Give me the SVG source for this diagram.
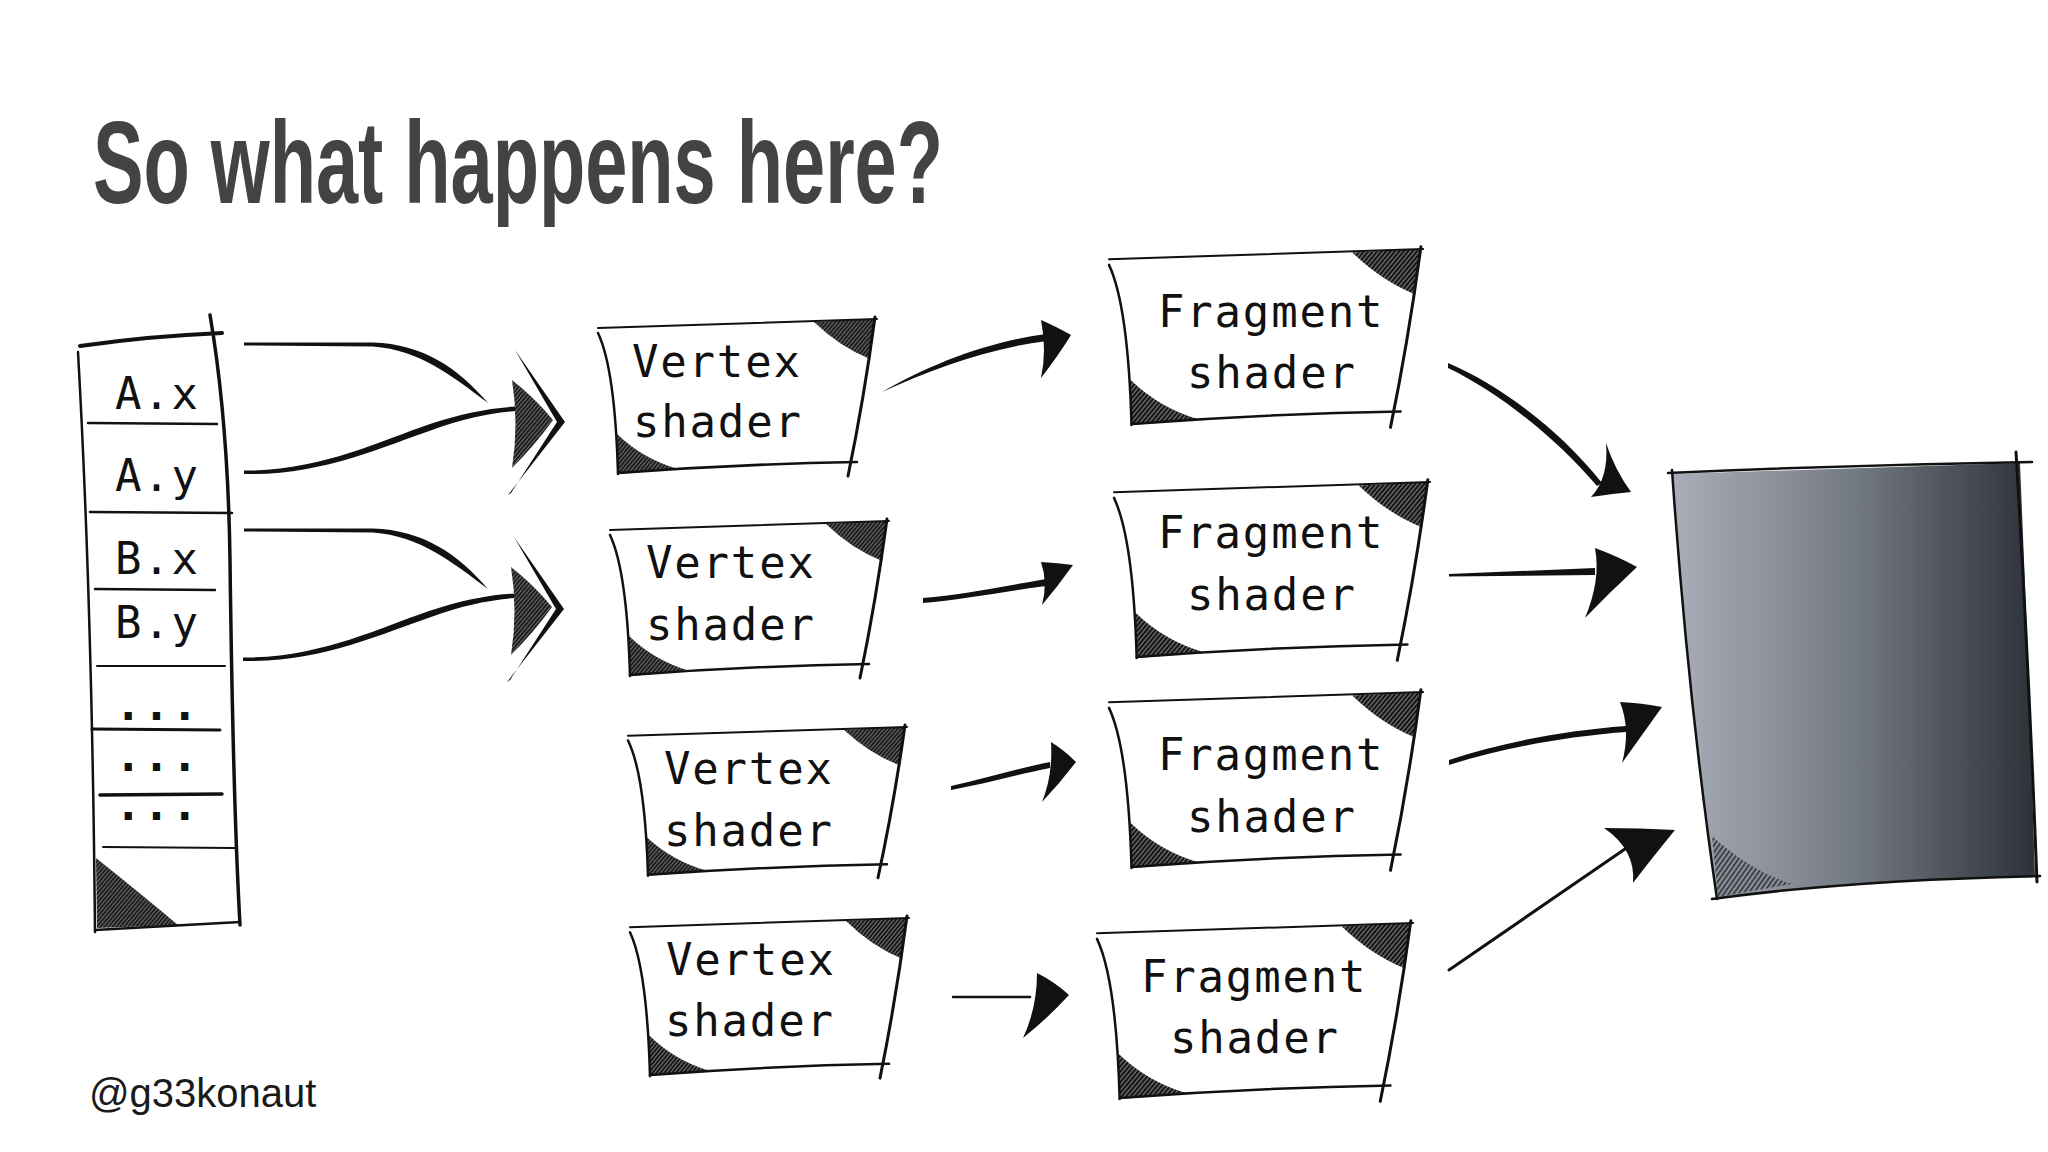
<svg xmlns="http://www.w3.org/2000/svg" xmlns:xlink="http://www.w3.org/1999/xlink" width="2048" height="1152" viewBox="0 0 2048 1152">
<style>
.ink{fill:none;stroke:#111;stroke-linecap:round;stroke-linejoin:round}
.brush{fill:#111;stroke:none}
.hatch{fill:url(#hatch);stroke:none}
.mono{font-family:"DejaVu Sans Mono","Liberation Mono",monospace;font-size:44px;fill:#111;letter-spacing:1.8px}
.dots{font-weight:700}
.title{font-family:"Liberation Sans",Arial,sans-serif;font-size:116px;font-weight:700;fill:#434343}
.handle{font-family:"Liberation Sans",Arial,sans-serif;font-size:40px;fill:#1a1a1a}
</style>
<defs>
<pattern id="hatch" patternUnits="userSpaceOnUse" width="3" height="3" patternTransform="rotate(40)">
<rect width="3" height="3" fill="#6a6a6a"/><rect width="1.7" height="3" fill="#111"/>
</pattern>
<pattern id="hatchLight" patternUnits="userSpaceOnUse" width="4" height="4" patternTransform="rotate(35)">
<rect width="4" height="4" fill="#8a8f98"/><rect width="1.5" height="4" fill="#2a2d33"/>
</pattern>
<linearGradient id="outGrad" x1="0" y1="0" x2="1" y2="0">
<stop offset="0" stop-color="#a9aeb8"/>
<stop offset="0.5" stop-color="#747a83"/>
<stop offset="1" stop-color="#2d3239"/>
</linearGradient>
<g id="card">
<path d="M0,12 Q140,4 277,0 Q265,75 252,145 Q140,146 20,154 Q17,50 0,16 Z" fill="#fff"/>
<path class="hatch" d="M216,3 Q242,28 272,40 L277,0 Z"/>
<path class="hatch" d="M19,115 Q45,140 80,150 L20,155 Z"/>
<path class="ink" vector-effect="non-scaling-stroke" stroke-width="2" d="M0,9 Q140,4 279,0"/>
<path class="ink" vector-effect="non-scaling-stroke" stroke-width="3" d="M277,-2 Q266,80 250,157"/>
<path class="ink" vector-effect="non-scaling-stroke" stroke-width="2.5" d="M20,154 Q140,145 259,143"/>
<path class="ink" vector-effect="non-scaling-stroke" stroke-width="2.5" d="M0,14 Q17,50 20,155"/>
</g>
</defs>
<rect width="2048" height="1152" fill="#fff"/>

<text class="title" x="93" y="203" textLength="850" lengthAdjust="spacingAndGlyphs">So what happens here?</text>
<text class="handle" x="89" y="1107">@g33konaut</text>

<g id="memory">
<path class="hatch" d="M96,858 Q140,893 178,925 L97,928 Z"/>
<path class="ink" stroke-width="4" d="M80,346 Q150,336 222,333"/>
<path class="ink" stroke-width="2.5" d="M78,352 Q92,600 95,932"/>
<path class="ink" stroke-width="3.5" d="M210,315 Q228,420 230,560 Q233,800 240,925"/>
<path class="ink" stroke-width="2.5" d="M95,930 L240,922"/>
<path class="ink" stroke-width="2.5" d="M88,423 L217,424"/>
<path class="ink" stroke-width="2.5" d="M90,512 L232,513"/>
<path class="ink" stroke-width="2.5" d="M95,589 L215,590"/>
<path class="ink" stroke-width="2" d="M97,666 L225,666"/>
<path class="ink" stroke-width="3" d="M92,729 L220,730"/>
<path class="ink" stroke-width="3.5" d="M100,795 L222,794"/>
<path class="ink" stroke-width="2" d="M103,847 L235,848"/>
<text class="mono" x="115" y="409">A.x</text>
<text class="mono" x="115" y="491">A.y</text>
<text class="mono" x="115" y="574">B.x</text>
<text class="mono" x="115" y="638">B.y</text>
<text class="mono dots" x="115" y="720">...</text>
<text class="mono dots" x="115" y="771">...</text>
<text class="mono dots" x="115" y="820">...</text>
</g>

<g id="vertex1">
<use xlink:href="#card" href="#card" transform="translate(598,319)"/>
<text class="mono" x="632" y="377">Vertex</text>
<text class="mono" x="633" y="437">shader</text>
</g>
<g id="vertex2">
<use xlink:href="#card" href="#card" transform="translate(610,521)"/>
<text class="mono" x="646" y="578">Vertex</text>
<text class="mono" x="646" y="640">shader</text>
</g>
<g id="vertex3">
<use xlink:href="#card" href="#card" transform="translate(628,727) scale(1,0.96)"/>
<text class="mono" x="664" y="784">Vertex</text>
<text class="mono" x="664" y="846">shader</text>
</g>
<g id="vertex4">
<use xlink:href="#card" href="#card" transform="translate(630,918) scale(1,1.02)"/>
<text class="mono" x="666" y="975">Vertex</text>
<text class="mono" x="665" y="1036">shader</text>
</g>

<g id="fragment1">
<use xlink:href="#card" href="#card" transform="translate(1109,249) scale(1.126,1.136)"/>
<text class="mono" x="1158" y="327">Fragment</text>
<text class="mono" x="1187" y="388">shader</text>
</g>
<g id="fragment2">
<use xlink:href="#card" href="#card" transform="translate(1114,482) scale(1.133,1.136)"/>
<text class="mono" x="1158" y="548">Fragment</text>
<text class="mono" x="1187" y="610">shader</text>
</g>
<g id="fragment3">
<use xlink:href="#card" href="#card" transform="translate(1109,692) scale(1.126,1.136)"/>
<text class="mono" x="1158" y="770">Fragment</text>
<text class="mono" x="1187" y="832">shader</text>
</g>
<g id="fragment4">
<use xlink:href="#card" href="#card" transform="translate(1097,923) scale(1.133,1.136)"/>
<text class="mono" x="1141" y="992">Fragment</text>
<text class="mono" x="1170" y="1053">shader</text>
</g>

<g id="output">
<path d="M1672,474 L2020,463 Q2028,650 2035,877 Q1850,880 1717,898 Q1688,700 1672,474 Z" fill="url(#outGrad)"/>
<path d="M1712,836 Q1752,872 1792,884 L1718,897 Z" fill="url(#hatchLight)"/>
<path class="ink" stroke-width="2.5" d="M1668,473 Q1850,465 2032,462"/>
<path class="ink" stroke-width="2.5" d="M1672,470 Q1688,700 1717,899"/>
<path class="ink" stroke-width="3" d="M2016,452 Q2028,650 2037,882"/>
<path class="ink" stroke-width="2.5" d="M1712,899 Q1850,880 2040,876"/>
</g>

<g id="connectors">
<path class="brush" d="M244,342.5 L373,342.5 C423,344 458,368 488,403 C452,376 420,350 373,346.5 L244,345.5 Z"/>
<path class="brush" d="M244,470.5 C320,471 380,441 430,424 C470,411 500,406 534,406 L534,410 C500,411 470,416 432,430 C382,447 320,476 244,474 Z"/>
<path class="brush" d="M515,350 L565,422 L508,495 L511,493 L557,422 Z"/>
<path class="hatch" d="M512,380 Q535,398 553,420 Q535,445 512,468 Q519,424 512,380 Z"/>
<g transform="translate(0,186)">
<path class="brush" d="M244,342.5 L373,342.5 C423,344 458,368 488,403 C452,376 420,350 373,346.5 L244,345.5 Z"/>
</g>
<g transform="translate(-1,187)">
<path class="brush" d="M244,470.5 C320,471 380,441 430,424 C470,411 500,406 534,406 L534,410 C500,411 470,416 432,430 C382,447 320,476 244,474 Z"/>
<path class="brush" d="M515,350 L565,422 L508,495 L511,493 L557,422 Z"/>
<path class="hatch" d="M512,380 Q535,398 553,420 Q535,445 512,468 Q519,424 512,380 Z"/>
</g>

<path class="brush" d="M882,392 C930,364 990,341 1046,334 L1047,341 C990,348 932,369 882,392 Z"/>
<path class="brush" d="M1041,320 Q1055,326 1071,335 Q1058,356 1041,378 Q1047,350 1041,320 Z"/>
<path class="brush" d="M923,598 C960,595 1000,587 1046,579 L1046,586 C1000,592 960,600 923,603 Z"/>
<path class="brush" d="M1041,562 Q1058,563 1073,565 Q1058,586 1042,605 Q1048,583 1041,562 Z"/>
<path class="brush" d="M951,786 C985,778 1015,769 1050,762 L1050,768 C1015,775 985,784 951,790 Z"/>
<path class="brush" d="M1051,742 Q1064,750 1076,762 Q1060,783 1042,802 Q1053,775 1051,742 Z"/>
<path class="ink" stroke-width="2.5" d="M953,997 L1030,997"/>
<path class="brush" d="M1037,973 Q1055,982 1069,995 Q1048,1018 1023,1038 Q1037,1008 1037,973 Z"/>

<path class="brush" d="M1448,363 C1500,385 1560,430 1602,483 L1597,486 C1556,438 1500,393 1448,368 Z"/>
<path class="brush" d="M1606,443 Q1615,470 1631,492 Q1610,494 1591,497 Q1609,478 1606,443 Z"/>
<path class="brush" d="M1449,574 L1595,568 L1595,575 L1449,576.5 Z"/>
<path class="brush" d="M1595,548 Q1617,556 1637,567 Q1610,592 1585,618 Q1601,580 1595,548 Z"/>
<path class="brush" d="M1449,760 C1500,743 1560,731 1626,726 L1626,732 C1560,737 1500,749 1449,765 Z"/>
<path class="brush" d="M1620,702 Q1642,703 1662,707 Q1642,735 1622,763 Q1631,730 1620,702 Z"/>
<path class="ink" stroke-width="3" d="M1449,970 L1625,849"/>
<path class="brush" d="M1604,828 Q1640,828 1675,830 Q1652,858 1633,883 Q1636,850 1604,828 Z"/>
</g>
</svg>
